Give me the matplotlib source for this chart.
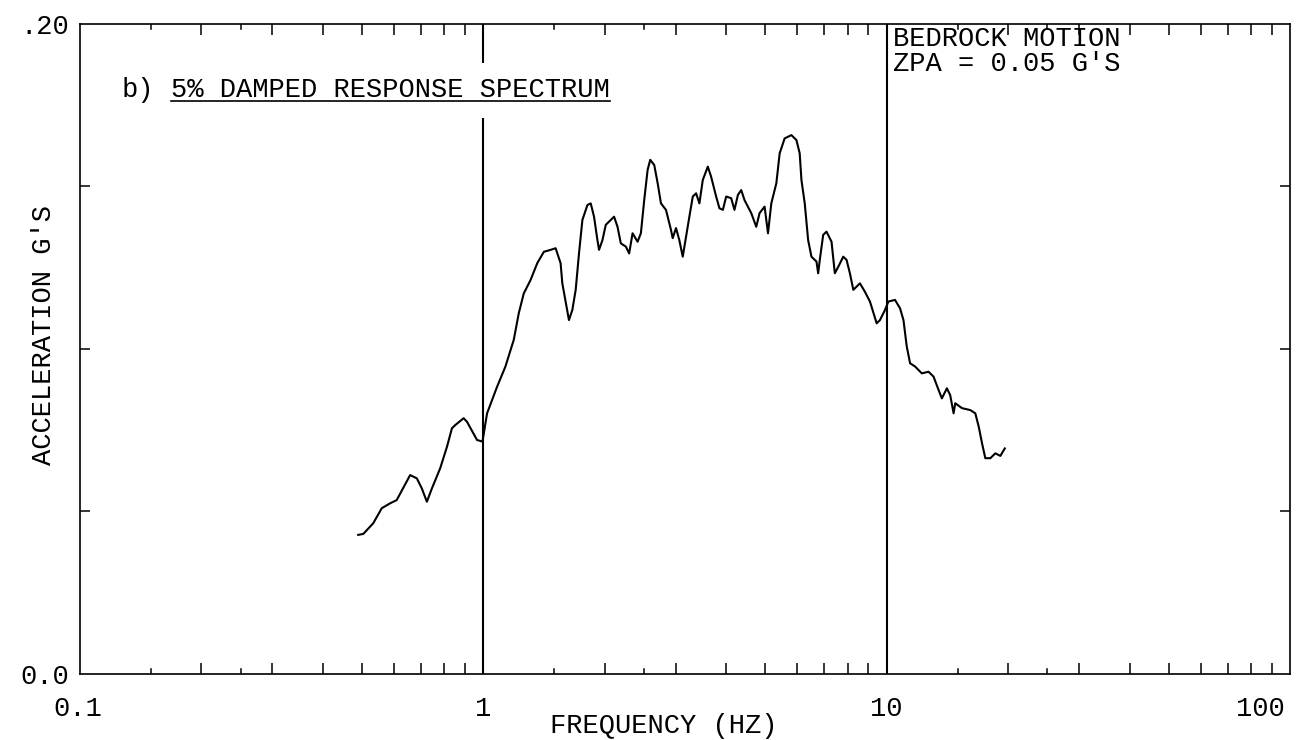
import numpy as np
import matplotlib
matplotlib.use("Agg")
import matplotlib.pyplot as plt
import matplotlib.transforms as mtransforms
from matplotlib.ticker import NullFormatter

# 5% damped response spectrum, bedrock motion
freq_hz = [
    0.4895, 0.504, 0.5335, 0.5598, 0.5869, 0.6097, 0.6583, 0.684, 0.7038, 0.7244,
    0.7455, 0.7816, 0.8124, 0.8358, 0.8519, 0.8934, 0.9109, 0.9645, 0.995, 1.0116,
    1.0214, 1.0817, 1.1342, 1.1895, 1.2241, 1.2595, 1.309, 1.3603, 1.4125, 1.4678,
    1.5105, 1.5542, 1.5696, 1.5995, 1.63, 1.6619, 1.694, 1.7263, 1.7601, 1.8113,
    1.8458, 1.881, 1.9178, 1.9355, 1.9737, 2.0114, 2.1093, 2.1509, 2.192, 2.2556,
    2.2985, 2.3439, 2.4118, 2.4578, 2.5051, 2.5541, 2.5926, 2.6525, 2.7049, 2.7563,
    2.8362, 2.919, 2.9474, 3.0036, 3.0608, 3.1213, 3.1808, 3.2415, 3.3055, 3.3685,
    3.4328, 3.4995, 3.6017, 3.6704, 3.7768, 3.8488, 3.9249, 3.9994, 4.1152, 4.1937,
    4.2766, 4.3582, 4.4413, 4.6152, 4.7489, 4.8395, 4.9808, 5.0782, 5.175, 5.3263,
    5.4279, 5.5847, 5.8036, 5.9717, 6.0856, 6.1462, 6.2634, 6.3859, 6.5077, 6.6973,
    6.7625, 6.8252, 6.9587, 7.0913, 7.2983, 7.4374, 7.5844, 7.8041, 7.953, 8.1048,
    8.265, 8.5832, 8.8308, 9.0882, 9.443, 9.6231, 9.9037, 10.097, 10.486, 10.793,
    11.004, 11.215, 11.429, 11.76, 12.22, 12.696, 13.066, 13.445, 13.702, 14.101,
    14.37, 14.651, 14.787, 15.367, 16.115, 16.585, 16.91, 17.232, 17.56, 18.072,
    18.597, 19.132, 19.623,
]
accel_g = [
    0.0428, 0.0431, 0.0464, 0.0510, 0.0525, 0.0535, 0.0612, 0.0602, 0.0571, 0.0530,
    0.0571, 0.0633, 0.0699, 0.0756, 0.0766, 0.0787, 0.0776, 0.0720, 0.0715, 0.0771,
    0.0802, 0.0884, 0.0946, 0.1028, 0.1110, 0.1171, 0.1212, 0.1264, 0.1299, 0.1305,
    0.1310, 0.1264, 0.1202, 0.1146, 0.1089, 0.1120, 0.1182, 0.1294, 0.1397, 0.1443,
    0.1448, 0.1407, 0.1335, 0.1305, 0.1335, 0.1382, 0.1407, 0.1376, 0.1325, 0.1315,
    0.1294, 0.1356, 0.1330, 0.1356, 0.1458, 0.1551, 0.1582, 0.1566, 0.1510, 0.1448,
    0.1428, 0.1366, 0.1341, 0.1372, 0.1335, 0.1284, 0.1346, 0.1407, 0.1469, 0.1479,
    0.1448, 0.1520, 0.1561, 0.1530, 0.1469, 0.1433, 0.1428, 0.1469, 0.1464, 0.1428,
    0.1474, 0.1489, 0.1458, 0.1418, 0.1376, 0.1418, 0.1438, 0.1356, 0.1448, 0.1510,
    0.1602, 0.1648, 0.1658, 0.1643, 0.1602, 0.1520, 0.1448, 0.1335, 0.1284, 0.1269,
    0.1233, 0.1274, 0.1351, 0.1361, 0.1330, 0.1233, 0.1253, 0.1284, 0.1274, 0.1233,
    0.1182, 0.1202, 0.1176, 0.1146, 0.1079, 0.1089, 0.1120, 0.1146, 0.1151, 0.1125,
    0.1089, 0.1007, 0.0956, 0.0946, 0.0925, 0.0930, 0.0915, 0.0874, 0.0848, 0.0879,
    0.0858, 0.0802, 0.0833, 0.0818, 0.0812, 0.0802, 0.0761, 0.0710, 0.0664, 0.0664,
    0.0679, 0.0671, 0.0694,
]

x_major = [0.1, 1, 10, 100]
x_major_labels = ["0.1", "1", "10", "100"]
x_minor = [m * d for d in (0.1, 1, 10) for m in (2, 3, 4, 5, 6, 7, 8, 9)]
x_half = [m * d for d in (0.1, 1, 10) for m in (1.5, 2.5)]
y_major = [0.0, 0.2]
y_major_labels = ["0.0", ".20"]
y_minor = [0.05, 0.10, 0.15]

FS = 19.5
plt.rcParams["font.family"] = ["Liberation Mono", "DejaVu Sans Mono"]

fig = plt.figure(figsize=(12.99, 7.40), dpi=100)
ax = fig.add_axes([0.0616, 0.0892, 0.9315, 0.8784])
ax.set_xscale("log")
ax.set_xlim(0.1, 100)
ax.set_ylim(0, 0.2)
for s in ax.spines.values():
    s.set_linewidth(1.2)

ax.plot(freq_hz, accel_g, color="black", lw=1.5)

# decade lines (the one at 1 Hz is broken around the caption)
ax.vlines(10, 0, 0.2, color="black", lw=1.5)
ax.vlines(1, 0, 0.171, color="black", lw=1.5)
ax.vlines(1, 0.188, 0.2, color="black", lw=1.5)

ax.set_xticks(x_major)
ax.set_xticklabels(x_major_labels, fontsize=FS)
ax.set_xticks(x_minor, minor=True)
ax.xaxis.set_minor_formatter(NullFormatter())
ax.tick_params(axis="x", which="major", length=0, pad=16)
ax.tick_params(axis="x", which="minor", direction="in", length=8, width=1.1,
               top=True, bottom=True)
labels = ax.xaxis.get_majorticklabels()
labels[0].set_transform(labels[0].get_transform()
                        + mtransforms.ScaledTranslation(-0.02, 0, fig.dpi_scale_trans))
labels[-1].set_transform(labels[-1].get_transform()
                         + mtransforms.ScaledTranslation(-0.3, 0, fig.dpi_scale_trans))
xt = ax.get_xaxis_transform()
for xv in x_half:
    ax.plot([xv, xv], [0, 0.007], color="black", lw=1.1, transform=xt)
    ax.plot([xv, xv], [0.993, 1], color="black", lw=1.1, transform=xt)

ax.set_yticks(y_major)
ax.set_yticklabels(y_major_labels, fontsize=FS)
ax.set_yticks(y_minor, minor=True)
ax.yaxis.set_minor_formatter(NullFormatter())
ax.tick_params(axis="y", which="major", length=0, pad=8)
ax.tick_params(axis="y", which="minor", direction="in", length=7, width=1.1,
               left=True, right=True)

fig.text(664 / 1299, 1 - 726 / 740, "FREQUENCY (HZ)", fontsize=FS,
         ha="center", va="center")
fig.text(44 / 1299, 1 - 335 / 740, "ACCELERATION G'S", fontsize=FS,
         rotation=90, ha="center", va="center")

ax.text(0.0347, 0.8877, "b)", fontsize=FS, transform=ax.transAxes,
        ha="left", va="baseline")
cap = ax.text(0.0752, 0.8877, "5% DAMPED RESPONSE SPECTRUM", fontsize=FS,
              transform=ax.transAxes, ha="left", va="baseline")
ax.text(0.672, 0.9662, "BEDROCK MOTION", fontsize=FS,
        transform=ax.transAxes, ha="left", va="baseline")
ax.text(0.672, 0.9277, "ZPA = 0.05 G'S", fontsize=FS,
        transform=ax.transAxes, ha="left", va="baseline")

# underline the caption
fig.canvas.draw()
bb = cap.get_window_extent().transformed(ax.transAxes.inverted())
ax.plot([bb.x0, bb.x1], [0.8877 - 0.006, 0.8877 - 0.006], color="black",
        lw=1.2, transform=ax.transAxes)

fig.savefig("out.png", dpi=100, facecolor="white")
